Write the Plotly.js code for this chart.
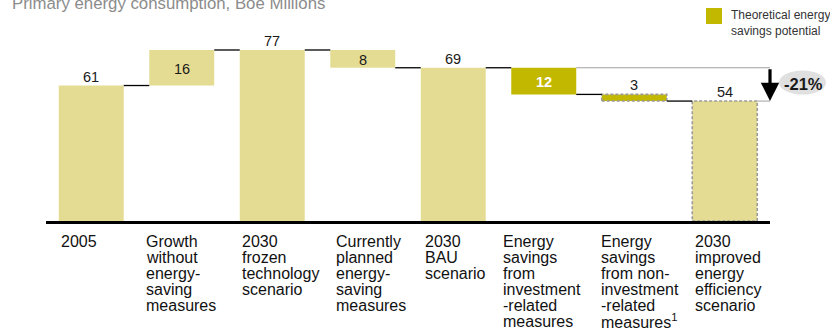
<!DOCTYPE html>
<html>
<head>
<meta charset="utf-8">
<script src="https://cdn.plot.ly/plotly-3.0.1.min.js"></script>
<style>
  html, body { margin: 0; padding: 0; background: #ffffff; }
  #chart { width: 830px; height: 333px; }
</style>
</head>
<body>
<div id="chart"></div>
<script>
// Primary energy consumption bridge, 2005 -> 2030 (Boe millions)
const categories = [
  "2005",
  "Growth<br>without<br>energy-<br>saving<br>measures",
  "2030<br>frozen<br>technology<br>scenario",
  "Currently<br>planned<br>energy-<br>saving<br>measures",
  "2030<br>BAU<br>scenario",
  "Energy<br>savings<br>from<br>investment<br>-related<br>measures",
  "Energy<br>savings<br>from non-<br>investment<br>-related<br>measures<sup>1</sup>",
  "2030<br>improved<br>energy<br>efficiency<br>scenario"
];
const values = [61, 16, 77, 8, 69, 12, 3, 54];
// total = bar from zero; up / down = floating step from the running total
const steps = ["total", "up", "total", "down", "total", "down", "down", "total"];
// bars that belong to the theoretical savings potential
const savingsPotential = [false, false, false, false, false, true, true, false];
// bars drawn with a dashed outline
const dashedOutline = [false, false, false, false, false, false, true, true];
const titleText = "Primary energy consumption, Boe Millions";
const legendText = "Theoretical energy<br>savings potential";
const changeText = "-21%";

// small horizontal nudges (px) for the category label blocks
const labelOffsetPx = [0, -5, 0, 4, 2, -10, -3, 1];

const LIGHT = "#E5DC94";
const OLIVE = "#C3B800";
const DASH_GREY = "#9a9a9a";
const FONT = "Arial, 'Liberation Sans', sans-serif";
const BAR_W = 0.718;
const HALF = BAR_W / 2;

// running totals -> base and top of every bar
const bases = [], tops = [], levelAfter = [];
let running = 0;
values.forEach((v, i) => {
  if (steps[i] === "total") { bases.push(0); tops.push(v); running = v; }
  else if (steps[i] === "up") { bases.push(running); tops.push(running + v); running += v; }
  else { tops.push(running); bases.push(running - v); running -= v; }
  levelAfter.push(running);
});
const xs = values.map((_, i) => i);

const traces = [];

// bars
traces.push({
  type: "bar",
  x: xs,
  y: values,
  base: bases,
  width: BAR_W,
  marker: {
    color: savingsPotential.map(s => s ? OLIVE : LIGHT),
    line: { width: 0 }
  },
  hoverinfo: "skip",
  showlegend: false
});

// dashed outlines
const ox = [], oy = [];
xs.forEach(i => {
  if (!dashedOutline[i]) return;
  ox.push(i - HALF, i + HALF, i + HALF, i - HALF, i - HALF, null);
  oy.push(bases[i], bases[i], tops[i], tops[i], bases[i], null);
});
traces.push({
  type: "scatter", mode: "lines", x: ox, y: oy,
  line: { color: DASH_GREY, width: 1.6, dash: "3px,2px" },
  hoverinfo: "skip", showlegend: false, cliponaxis: false
});

// black connectors between neighbouring bars
const cx = [], cy = [];
for (let i = 0; i < values.length - 1; i++) {
  cx.push(i + HALF, i + 1 - HALF, null);
  cy.push(levelAfter[i], levelAfter[i], null);
}
traces.push({
  type: "scatter", mode: "lines", x: cx, y: cy,
  line: { color: "#000000", width: 1.3 },
  hoverinfo: "skip", showlegend: false
});

// grey reference lines for the BAU -> improved comparison
const bauIdx = 4, finalIdx = values.length - 1;
const arrowX = finalIdx + 0.5;
const refEnd = finalIdx + 0.566;
traces.push({
  type: "scatter", mode: "lines",
  x: [bauIdx + 1 + HALF, refEnd, null, finalIdx + HALF, refEnd],
  y: [values[bauIdx], values[bauIdx], null, values[finalIdx], values[finalIdx]],
  line: { color: "#a0a0a0", width: 1 },
  hoverinfo: "skip", showlegend: false, cliponaxis: false
});

const annotations = [];

// value labels
xs.forEach(i => {
  const inside = steps[i] !== "total" && values[i] >= 5;
  annotations.push({
    x: i, y: inside ? (bases[i] + tops[i]) / 2 : tops[i],
    xref: "x", yref: "y",
    text: savingsPotential[i] && inside ? "<b>" + values[i] + "</b>" : String(values[i]),
    showarrow: false,
    xanchor: "center", yanchor: "middle",
    yshift: inside ? -1 : 9,
    font: { family: FONT, size: 14.5, color: savingsPotential[i] && inside ? "#ffffff" : "#1a1a1a" }
  });
});

// category labels, one line per annotation for tight line spacing
categories.forEach((label, i) => {
  label.split("<br>").forEach((line, k) => {
    annotations.push({
      x: i - HALF, y: 0, xref: "x", yref: "paper",
      text: line, showarrow: false,
      xanchor: "left", yanchor: "middle",
      xshift: labelOffsetPx[i],
      yshift: -(20 + 16 * k),
      font: { family: FONT, size: 16, color: "#111111" }
    });
  });
});

// BAU -> improved arrow
annotations.push({
  x: arrowX, y: values[finalIdx], ax: arrowX, ay: values[bauIdx],
  xref: "x", yref: "y", axref: "x", ayref: "y",
  text: "", showarrow: true,
  arrowhead: 2, arrowsize: 1.15, arrowwidth: 3.2, arrowcolor: "#000000",
  standoff: 0, startstandoff: 0
});

// change badge text
annotations.push({
  x: 1.046, y: 0.718, xref: "paper", yref: "paper",
  text: "<b>" + changeText + "</b>", showarrow: false,
  xanchor: "center", yanchor: "middle",
  font: { family: FONT, size: 16.5, color: "#1a1a1a" }
});

// chart title
annotations.push({
  x: -0.0495, y: 1.141, xref: "paper", yref: "paper",
  text: titleText, showarrow: false,
  xanchor: "left", yanchor: "middle",
  font: { family: FONT, size: 16.8, color: "#8c8c8c" }
});

// legend text
annotations.push({
  x: 0.943, y: 1.036, xref: "paper", yref: "paper",
  text: legendText, showarrow: false, align: "left",
  xanchor: "left", yanchor: "middle",
  font: { family: FONT, size: 12, color: "#333333" }
});

const shapes = [
  // legend swatch
  { type: "rect", xref: "paper", yref: "paper",
    x0: 0.9116, x1: 0.9337, y0: 1.0314, y1: 1.1152,
    fillcolor: OLIVE, line: { width: 0 } },
  // change badge
  { type: "circle", xref: "paper", yref: "paper",
    x0: 1.0124, x1: 1.0773, y0: 0.662, y1: 0.788,
    fillcolor: "#e0e0e0", line: { width: 0 }, layer: "below" }
];

const layout = {
  width: 830, height: 333,
  margin: { l: 46, r: 60, t: 30, b: 112, pad: 0 },
  paper_bgcolor: "#ffffff", plot_bgcolor: "#ffffff",
  showlegend: false,
  xaxis: {
    range: [-0.5, values.length - 0.5],
    showgrid: false, zeroline: false, showticklabels: false, ticks: "",
    showline: true, linecolor: "#000000", linewidth: 2.5, fixedrange: true
  },
  yaxis: {
    range: [0, 86],
    showgrid: false, zeroline: false, showticklabels: false, ticks: "",
    showline: false, fixedrange: true
  },
  annotations: annotations,
  shapes: shapes,
  font: { family: FONT }
};

Plotly.newPlot("chart", traces, layout, { displayModeBar: false, staticPlot: true });
</script>
</body>
</html>
